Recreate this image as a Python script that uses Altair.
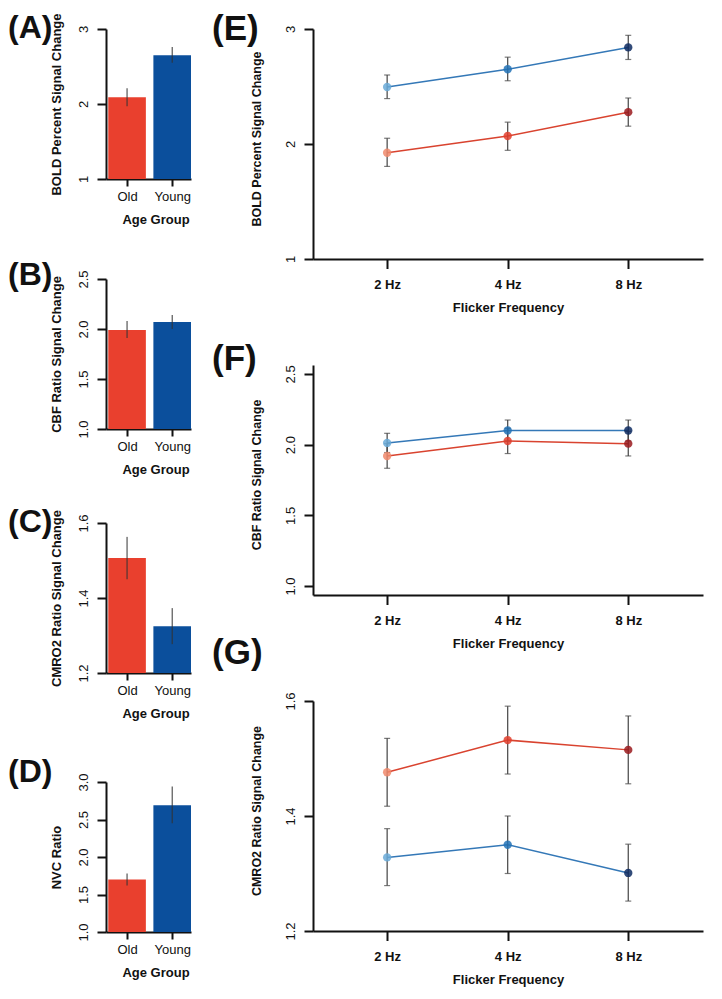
import altair as alt
import pandas as pd

FONT = "Liberation Sans"

# ---------------- data: bar panels (A-D) ----------------
groups = ["Old", "Young"]
bar_colors = ["#E9402E", "#0B4F9C"]

bold_mean = [2.09, 2.65]
bold_lo = [1.97, 2.55]
bold_hi = [2.21, 2.76]

cbf_mean = [1.99, 2.07]
cbf_lo = [1.91, 2.00]
cbf_hi = [2.08, 2.14]

cmro2_mean = [1.507, 1.325]
cmro2_lo = [1.45, 1.277]
cmro2_hi = [1.563, 1.373]

nvc_mean = [1.70, 2.69]
nvc_lo = [1.62, 2.45]
nvc_hi = [1.78, 2.94]

# ---------------- data: line panels (E-G) ----------------
freqs = ["2 Hz", "4 Hz", "8 Hz"]
old_point_colors = ["#F08A6C", "#E2402E", "#9B1B1F"]
young_point_colors = ["#6AAAD8", "#2272B6", "#0E2B62"]
line_colors = ["#D9432F", "#3478B7"]

bold_old = [1.924, 2.07, 2.277]
bold_old_lo = [1.805, 1.945, 2.155]
bold_old_hi = [2.05, 2.19, 2.40]
bold_young = [2.496, 2.65, 2.84]
bold_young_lo = [2.395, 2.55, 2.735]
bold_young_hi = [2.60, 2.755, 2.945]

cbf_old = [1.92, 2.026, 2.007]
cbf_old_lo = [1.833, 1.937, 1.92]
cbf_old_hi = [2.007, 2.115, 2.094]
cbf_young = [2.012, 2.10, 2.10]
cbf_young_lo = [1.944, 2.026, 2.026]
cbf_young_hi = [2.08, 2.174, 2.174]

cmro2_old = [1.476, 1.532, 1.515]
cmro2_old_lo = [1.417, 1.473, 1.456]
cmro2_old_hi = [1.535, 1.591, 1.574]
cmro2_young = [1.328, 1.35, 1.301]
cmro2_young_lo = [1.279, 1.30, 1.252]
cmro2_young_hi = [1.378, 1.40, 1.351]


def label_expr(positions, labels):
    expr = "''"
    for p, l in reversed(list(zip(positions, labels))):
        expr = f"abs(datum.value - {p}) < 0.01 ? '{l}' : {expr}"
    return expr


def panel_title(text, dx, dy, size):
    return alt.TitleParams(text=text, anchor="start", frame="group", orient="top",
                           offset=0, dx=dx, dy=dy, baseline="alphabetic",
                           font=FONT, fontSize=size, fontWeight="bold", color="#111")


def bar_panel(mean, lo, hi, dom, ticks, fmt, ytitle, label, height, top, tdy):
    centers = [round(0.7 + 1.2 * i, 3) for i in range(len(groups))]
    df = pd.DataFrame({
        "group": groups, "mean": mean, "lo": lo, "hi": hi,
        "x0": [c - 0.5 for c in centers], "x1": [c + 0.5 for c in centers],
        "xc": centers, "base": [dom[0]] * len(groups),
    })
    xs = alt.Scale(domain=[0.14, 2.4], nice=False, zero=False)
    ys = alt.Scale(domain=dom, range=[height, top], nice=False, zero=False)
    xaxis = alt.Axis(values=centers, labelExpr=label_expr(centers, groups),
                     title="Age Group", tickSize=7, labelPadding=4,
                     labelFontWeight="normal", labelFontSize=13,
                     titleX=49.5, titleY=44.6, titleBaseline="alphabetic",
                     titleAlign="center", titleFontSize=13, labelFlush=False,
                     labelOverlap=False)
    yaxis = alt.Axis(values=ticks, format=fmt, tickCount=len(ticks), title=ytitle,
                     tickSize=9, labelAngle=270, labelAlign="center",
                     labelBaseline="bottom", labelPadding=6.5, labelFontSize=13,
                     labelFlush=False, labelOverlap=False, titleAngle=270,
                     titleBaseline="bottom", titleAlign="center", titleX=-43,
                     titleY=(top + height) / 2, titleFontSize=13)
    bars = alt.Chart(df).mark_bar().encode(
        x=alt.X("x0:Q", scale=xs, axis=xaxis),
        x2="x1:Q",
        y=alt.Y("mean:Q", scale=ys, axis=yaxis),
        y2="base:Q",
        color=alt.Color("group:N", scale=alt.Scale(domain=groups, range=bar_colors),
                        legend=None),
    )
    err = alt.Chart(df).mark_rule(color="#333333", strokeWidth=1).encode(
        x="xc:Q", y="lo:Q", y2="hi:Q")
    return alt.layer(bars, err).properties(
        width=85, height=height, title=panel_title(label, -98, tdy, 32))


def line_panel(old, old_lo, old_hi, young, young_lo, young_hi, dom, ticks, fmt,
               ytitle, label, tdx, tdy):
    rows = []
    for g, vals, los, his in [("Old", old, old_lo, old_hi),
                              ("Young", young, young_lo, young_hi)]:
        for i, f in enumerate(freqs):
            rows.append({"group": g, "freq": f, "pos": i + 1, "mean": vals[i],
                         "lo": los[i], "hi": his[i], "key": g + " " + f})
    df = pd.DataFrame(rows)
    keys = list(df["key"])
    positions = list(range(1, len(freqs) + 1))
    xs = alt.Scale(domain=[0.385, 3.62], nice=False, zero=False)
    ys = alt.Scale(domain=dom, nice=False, zero=False)
    xaxis = alt.Axis(values=positions, labelExpr=label_expr(positions, freqs),
                     title="Flicker Frequency", tickSize=9.5, labelPadding=10,
                     labelFontWeight="bold", labelFontSize=13, labelFlush=False,
                     labelOverlap=False, titleX=195, titleY=52.3,
                     titleBaseline="alphabetic", titleAlign="center",
                     titleFontSize=13)
    yaxis = alt.Axis(values=ticks, format=fmt, tickCount=len(ticks), title=ytitle,
                     tickSize=9, labelAngle=270, labelAlign="center",
                     labelBaseline="bottom", labelPadding=7, labelFontSize=13,
                     labelFlush=False, labelOverlap=False, titleAngle=270,
                     titleBaseline="bottom", titleAlign="center", titleX=-50,
                     titleY=109.5, titleFontSize=12.5)
    base = alt.Chart(df)
    lines = base.mark_line(strokeWidth=1.5).encode(
        x=alt.X("pos:Q", scale=xs, axis=xaxis),
        y=alt.Y("mean:Q", scale=ys, axis=yaxis),
        stroke=alt.Stroke("group:N", scale=alt.Scale(domain=["Old", "Young"],
                                                       range=line_colors),
                          legend=None),
        detail="group:N",
    )
    rules = base.mark_rule(color="#444444", strokeWidth=1.2).encode(
        x="pos:Q", y="lo:Q", y2="hi:Q")
    cap_lo = base.mark_tick(color="#444444", orient="horizontal", size=6,
                            thickness=1.2).encode(x="pos:Q", y="lo:Q")
    cap_hi = base.mark_tick(color="#444444", orient="horizontal", size=6,
                            thickness=1.2).encode(x="pos:Q", y="hi:Q")
    pts = base.mark_circle(size=70, opacity=0.85).encode(
        x="pos:Q", y="mean:Q",
        fill=alt.Fill("key:N", scale=alt.Scale(domain=keys,
                                               range=old_point_colors + young_point_colors),
                      legend=None),
    )
    return alt.layer(lines, rules, cap_lo, cap_hi, pts).properties(
        width=390, height=230, title=panel_title(label, tdx, tdy, 35))


A = bar_panel(bold_mean, bold_lo, bold_hi, [1, 3], [1.0, 2.0, 3.0], ".0f",
              "BOLD Percent Signal Change", "(A)", 150, 0, 57)
B = bar_panel(cbf_mean, cbf_lo, cbf_hi, [1, 2.5], [1.0, 1.5, 2.0, 2.5], ".1f",
              "CBF Ratio Signal Change", "(B)", 156, 6, 47)
C = bar_panel(cmro2_mean, cmro2_lo, cmro2_hi, [1.2, 1.6], [1.2, 1.4, 1.6], ".1f",
              "CMRO2 Ratio Signal Change", "(C)", 150, 0, 54.5)
D = bar_panel(nvc_mean, nvc_lo, nvc_hi, [1, 3], [1.0, 1.5, 2.0, 2.5, 3.0], ".1f",
              "NVC Ratio", "(D)", 165, 15, 47)

E = line_panel(bold_old, bold_old_lo, bold_old_hi, bold_young, bold_young_lo,
               bold_young_hi, [1, 3], [1.0, 2.0, 3.0], ".0f",
               "BOLD Percent Signal Change", "(E)", -101, 49.3)
F = line_panel(cbf_old, cbf_old_lo, cbf_old_hi, cbf_young, cbf_young_lo,
               cbf_young_hi, [0.937, 2.563], [1.0, 1.5, 2.0, 2.5], ".1f",
               "CBF Ratio Signal Change", "(F)", -101, 40)
G = line_panel(cmro2_old, cmro2_old_lo, cmro2_old_hi, cmro2_young, cmro2_young_lo,
               cmro2_young_hi, [1.2, 1.6], [1.2, 1.4, 1.6], ".1f",
               "CMRO2 Ratio Signal Change", "(G)", -101, 7)

left = alt.vconcat(A, B, C, D, spacing=94, bounds="flush")
right = alt.vconcat(E, F, G, spacing=106, bounds="flush")

chart = alt.hconcat(
    left, right, spacing=21,
    padding={"left": 0, "top": 3, "right": 5, "bottom": 5},
).configure_view(stroke=None).configure_axis(
    domainColor="#111111", domainWidth=2, tickColor="#111111", tickWidth=2,
    grid=False, labelFont=FONT, titleFont=FONT, labelColor="#111111",
    titleColor="#111111", titleFontWeight="bold",
)

chart.save("out.html", embed_options={"renderer": "svg", "actions": False})
